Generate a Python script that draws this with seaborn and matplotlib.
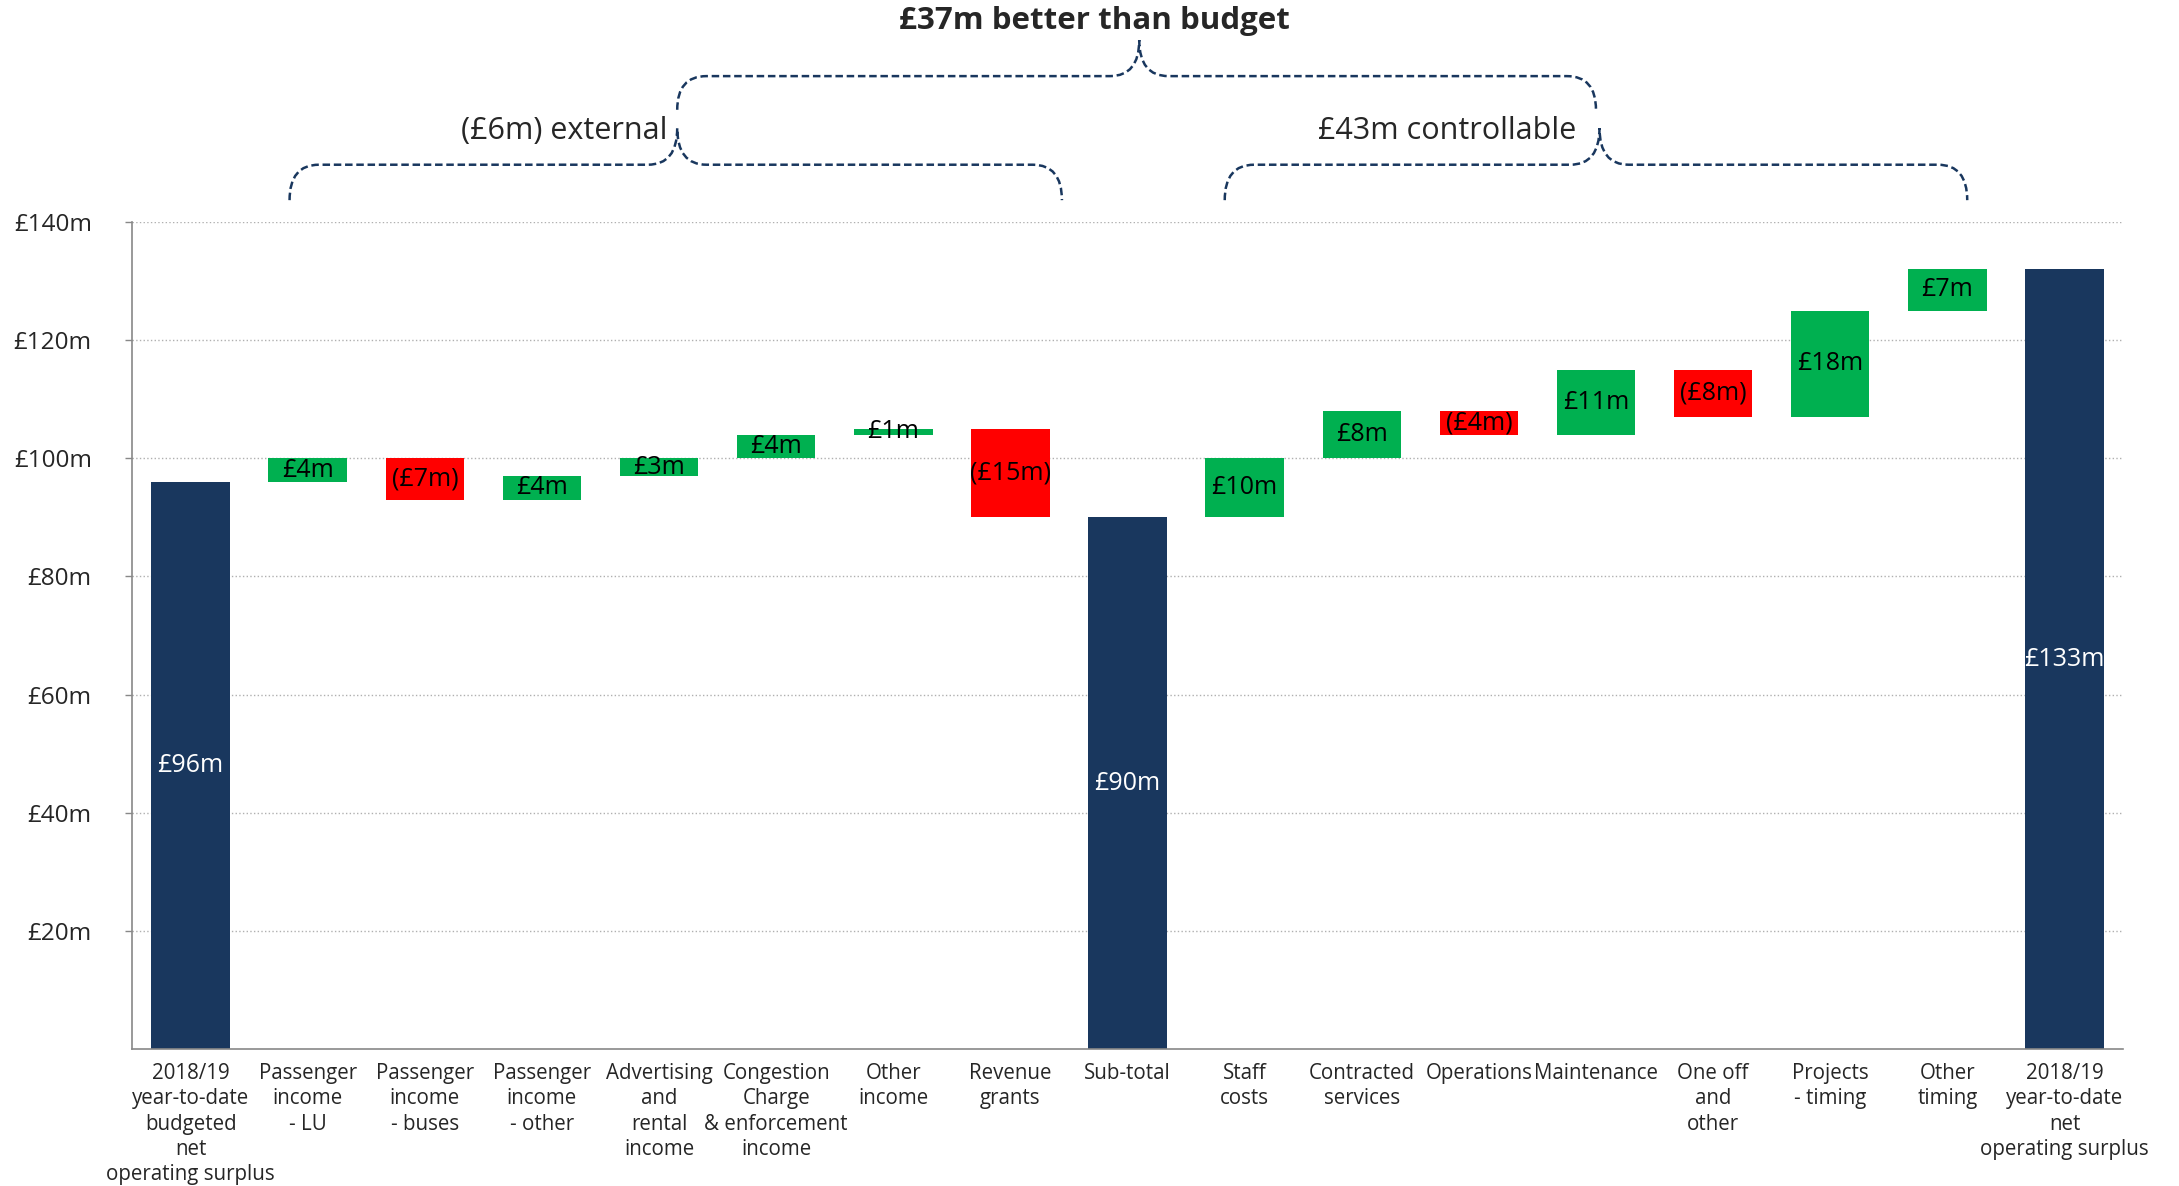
import numpy as np
import pandas as pd
import matplotlib
matplotlib.use('Agg')
import matplotlib.pyplot as plt
import seaborn as sns
from matplotlib.path import Path
from matplotlib.patches import PathPatch

# --- data -----------------------------------------------------------------
categories = [
    '2018/19\nyear-to-date\nbudgeted\nnet\noperating surplus',
    'Passenger\nincome\n- LU',
    'Passenger\nincome\n- buses',
    'Passenger\nincome\n- other',
    'Advertising\nand\nrental\nincome',
    'Congestion\nCharge\n& enforcement\nincome',
    'Other\nincome',
    'Revenue\ngrants',
    'Sub-total',
    'Staff\ncosts',
    'Contracted\nservices',
    'Operations',
    'Maintenance',
    'One off\nand\nother',
    'Projects\n- timing',
    'Other\ntiming',
    '2018/19\nyear-to-date\nnet\noperating surplus',
]
kinds = ['total', 'delta', 'delta', 'delta', 'delta', 'delta', 'delta', 'delta',
         'total', 'delta', 'delta', 'delta', 'delta', 'delta', 'delta', 'delta', 'total']
values = [96, 4, -7, 4, 3, 4, 1, -15, 90, 10, 8, -4, 11, -8, 18, 7, 132]
bar_labels = ['£96m', '£4m', '(£7m)', '£4m', '£3m', '£4m', '£1m', '(£15m)', '£90m',
              '£10m', '£8m', '(£4m)', '£11m', '(£8m)', '£18m', '£7m', '£133m']
y_ticks = [20, 40, 60, 80, 100, 120, 140]

NAVY = '#19375e'
GREEN = '#00b050'
RED = '#ff0000'

# waterfall geometry
bottoms, heights, colors = [], [], []
running = 0
for k, v in zip(kinds, values):
    if k == 'total':
        running = v
        bottoms.append(0)
        heights.append(v)
        colors.append(NAVY)
    else:
        bottoms.append(min(running, running + v))
        heights.append(abs(v))
        colors.append(GREEN if v > 0 else RED)
        running += v

df = pd.DataFrame({'category': categories, 'height': heights, 'bottom': bottoms})

sns.set_style('white')
plt.rcParams['font.family'] = ['Open Sans', 'DejaVu Sans']

fig = plt.figure(figsize=(21.79, 11.86), dpi=100)
ax = fig.add_axes([0.0606, 0.1155, 0.9137, 0.6973])

sns.barplot(data=df, x='category', y='height', hue='category', palette=colors,
            width=0.67, saturation=1, linewidth=0, legend=False, ax=ax)
for patch, b in zip(ax.patches, bottoms):
    patch.set_y(b)

for i, (b, h, lab, k) in enumerate(zip(bottoms, heights, bar_labels, kinds)):
    ax.text(i, b + h / 2, lab, ha='center', va='center', fontsize=18,
            color='white' if k == 'total' else 'black')

ax.set_xlim(-0.5, 16.5)
ax.set_ylim(0, 140)
ax.set_yticks(y_ticks)
ax.set_yticklabels([f'£{v}m' for v in y_ticks], fontsize=17.5)
ax.set_xticks(range(len(categories)))
ax.set_xticklabels(categories, fontsize=14.8, linespacing=1.27)
ax.set_xlabel('')
ax.set_ylabel('')
ax.tick_params(axis='x', length=0, pad=10)
ax.tick_params(axis='y', length=5, color='#888888', width=1, left=True, pad=24)
ax.yaxis.grid(True, linestyle=':', color='#b0b0b0', linewidth=1)
ax.set_axisbelow(True)
for s in ['top', 'right']:
    ax.spines[s].set_visible(False)
for s in ['left', 'bottom']:
    ax.spines[s].set_color('#888888')
    ax.spines[s].set_linewidth(1.2)


# --- curly braces --------------------------------------------------------
def brace(x0, x1, xm, y_end, y_h, y_tip, rx=0.25):
    verts = [(x0, y_end), (x0, y_h), (x0 + rx, y_h), (xm - rx, y_h),
             (xm, y_h), (xm, y_tip), (xm, y_h), (xm + rx, y_h),
             (x1 - rx, y_h), (x1, y_h), (x1, y_end)]
    codes = [Path.MOVETO, Path.CURVE3, Path.CURVE3, Path.LINETO,
             Path.CURVE3, Path.CURVE3, Path.CURVE3, Path.CURVE3,
             Path.LINETO, Path.CURVE3, Path.CURVE3]
    p = PathPatch(Path(verts, codes), fill=False, edgecolor=NAVY, lw=1.8,
                  linestyle=(0, (3, 1.5)), clip_on=False)
    ax.add_patch(p)


brace(0.845, 7.44, 4.155, 143.7, 149.7, 155.9)
brace(8.83, 15.17, 12.03, 143.7, 149.7, 155.9)
brace(4.155, 12.0, 8.1, 159.0, 164.7, 170.8)

ax.text(7.72, 174.1, '£37m better than budget', ha='center', va='center',
        fontsize=22.5, fontweight='bold', clip_on=False)
ax.text(4.07, 155.4, '(£6m) external', ha='right', va='center', fontsize=22,
        clip_on=False)
ax.text(11.83, 155.4, '£43m controllable', ha='right', va='center', fontsize=22,
        clip_on=False)

fig.savefig('out.png', dpi=100)
plt.close(fig)
